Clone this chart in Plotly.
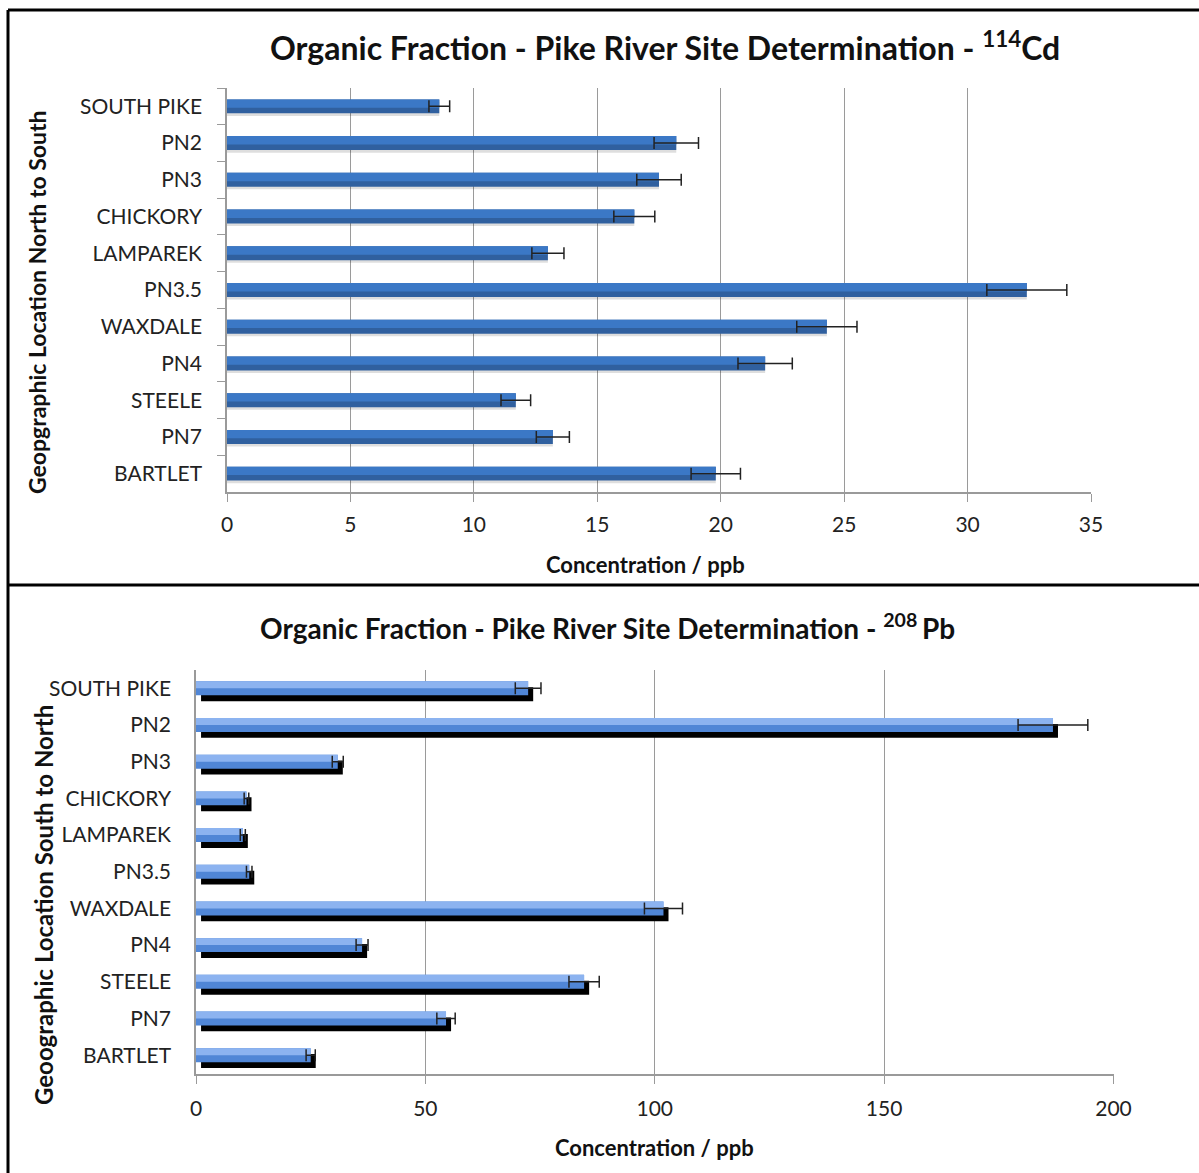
import plotly.graph_objects as go

# ---------------- data ----------------
cd_sites = ["SOUTH PIKE", "PN2", "PN3", "CHICKORY", "LAMPAREK", "PN3.5",
            "WAXDALE", "PN4", "STEELE", "PN7", "BARTLET"]
cd_values = [8.6, 18.2, 17.5, 16.5, 13.0, 32.4, 24.3, 21.8, 11.7, 13.2, 19.8]
cd_errors = [0.42, 0.9, 0.9, 0.83, 0.65, 1.62, 1.22, 1.1, 0.6, 0.67, 1.0]
cd_ticks = [0, 5, 10, 15, 20, 25, 30, 35]

pb_sites = ["SOUTH PIKE", "PN2", "PN3", "CHICKORY", "LAMPAREK", "PN3.5",
            "WAXDALE", "PN4", "STEELE", "PN7", "BARTLET"]
pb_values = [72.4, 186.8, 30.9, 11.0, 10.2, 11.6, 101.9, 36.2, 84.6, 54.5, 25.0]
pb_errors = [2.8, 7.6, 1.2, 0.5, 0.55, 0.6, 4.15, 1.3, 3.3, 2.0, 1.0]
pb_ticks = [0, 50, 100, 150, 200]

W, H = 1199, 1173
FONT = "Lato"
GRID = "#9A9A9A"


def px(x):
    return x / W


def py(y):
    return 1 - y / H


fig = go.Figure()

# ---------------- top chart (114Cd) ----------------
bw = 0.38
fig.add_trace(go.Bar(y=cd_sites, x=cd_values, orientation="h", width=bw, offset=-bw / 2 + 0.07,
                     marker=dict(color="rgba(0,0,0,0.13)", line=dict(width=0)),
                     xaxis="x", yaxis="y", showlegend=False, hoverinfo="skip"))
fig.add_trace(go.Bar(y=cd_sites, x=cd_values, orientation="h", width=bw, offset=-bw / 2,
                     marker=dict(color="#30609F", line=dict(width=0)),
                     xaxis="x", yaxis="y", showlegend=False))
fig.add_trace(go.Bar(y=cd_sites, x=cd_values, orientation="h", width=bw * 0.6, offset=-bw / 2,
                     marker=dict(color="#3B78C6", line=dict(width=0)),
                     xaxis="x", yaxis="y", showlegend=False, hoverinfo="skip"))
fig.add_trace(go.Scatter(y=cd_sites, x=cd_values, mode="markers",
                         marker=dict(color="rgba(0,0,0,0)", size=1),
                         error_x=dict(type="data", array=cd_errors, symmetric=True,
                                      color="#222222", thickness=1.5, width=6),
                         xaxis="x", yaxis="y", showlegend=False, hoverinfo="skip"))

# ---------------- bottom chart (208Pb) ----------------
fig.add_trace(go.Bar(y=pb_sites, x=pb_values, base=[1.1] * len(pb_values), orientation="h",
                     width=bw, offset=-bw / 2 + 0.16,
                     marker=dict(color="#000000", line=dict(width=0)),
                     xaxis="x2", yaxis="y2", showlegend=False, hoverinfo="skip"))
fig.add_trace(go.Bar(y=pb_sites, x=pb_values, orientation="h", width=bw, offset=-bw / 2,
                     marker=dict(color="#5086D6", line=dict(width=0)),
                     xaxis="x2", yaxis="y2", showlegend=False))
fig.add_trace(go.Bar(y=pb_sites, x=pb_values, orientation="h", width=bw * 0.5, offset=-bw / 2,
                     marker=dict(color="#8CB3F0", line=dict(width=0)),
                     xaxis="x2", yaxis="y2", showlegend=False, hoverinfo="skip"))
fig.add_trace(go.Scatter(y=pb_sites, x=pb_values, mode="markers",
                         marker=dict(color="rgba(0,0,0,0)", size=1),
                         error_x=dict(type="data", array=pb_errors, symmetric=True,
                                      color="#222222", thickness=1.5, width=6),
                         xaxis="x2", yaxis="y2", showlegend=False, hoverinfo="skip"))

ytickfont = dict(family=FONT, size=21, color="#222222")
xtickfont = dict(family=FONT, size=21, color="#222222")
n = len(cd_sites)

fig.update_layout(
    width=W, height=H,
    margin=dict(l=0, r=0, t=0, b=0),
    paper_bgcolor="white", plot_bgcolor="white",
    barmode="overlay",
    xaxis=dict(domain=[px(227), px(1091)], anchor="y", range=[0, 35],
               tickvals=cd_ticks, showgrid=True, gridcolor=GRID, gridwidth=1,
               showline=True, linecolor=GRID, linewidth=1.5,
               ticks="outside", ticklen=8, tickcolor=GRID, tickfont=xtickfont,
               ticklabelstandoff=5, zeroline=False, automargin=False, fixedrange=True),
    yaxis=dict(domain=[py(492), py(88)], anchor="x", type="category",
               categoryorder="array", categoryarray=cd_sites, range=[n - 0.5, -0.5],
               showline=True, linecolor=GRID, linewidth=1.5,
               ticks="outside", ticklen=8, tickcolor=GRID, tickson="boundaries",
               tickfont=ytickfont, ticklabelstandoff=19, showgrid=False,
               automargin=False, fixedrange=True),
    xaxis2=dict(domain=[px(196), px(1113.5)], anchor="y2", range=[0, 200],
                tickvals=pb_ticks, showgrid=True, gridcolor=GRID, gridwidth=1,
                showline=True, linecolor=GRID, linewidth=1.5,
                ticks="outside", ticklen=9, tickcolor=GRID, tickfont=xtickfont,
                ticklabelstandoff=7, zeroline=False, automargin=False, fixedrange=True),
    yaxis2=dict(domain=[py(1073.5), py(670)], anchor="x2", type="category",
                categoryorder="array", categoryarray=pb_sites, range=[n - 0.5, -0.5],
                showline=True, linecolor=GRID, linewidth=1.5, ticks="",
                tickfont=ytickfont, ticklabelstandoff=19, showgrid=False,
                automargin=False, fixedrange=True),
)

annots = [
    dict(text="Organic Fraction - Pike River Site Determination - <sup>114</sup>Cd",
         x=px(665), y=py(46), font=dict(family=FONT, size=32, color="#111111", weight="bold")),
    dict(text="Concentration / ppb", x=px(645), y=py(564),
         font=dict(family=FONT, size=22, color="#111111", weight="bold")),
    dict(text="Geopgraphic Location North to South", x=px(37), y=py(302), textangle=-90,
         font=dict(family=FONT, size=23, color="#111111", weight="bold")),
    dict(text="Organic Fraction - Pike River Site Determination - <sup>208 </sup>Pb",
         x=px(607), y=py(626), font=dict(family=FONT, size=28, color="#111111", weight="bold")),
    dict(text="Concentration / ppb", x=px(654), y=py(1147),
         font=dict(family=FONT, size=22, color="#111111", weight="bold")),
    dict(text="Geoographic Location South to North", x=px(43), y=py(905), textangle=-90,
         font=dict(family=FONT, size=24, color="#111111", weight="bold")),
]
for a in annots:
    fig.add_annotation(xref="paper", yref="paper", showarrow=False,
                       xanchor="center", yanchor="middle", **a)

# frame lines
border = dict(color="black", width=3)
fig.add_shape(type="line", xref="paper", yref="paper", x0=px(8), x1=1, y0=py(10), y1=py(10), line=border)
fig.add_shape(type="line", xref="paper", yref="paper", x0=px(8), x1=px(8), y0=py(10), y1=0, line=border)
fig.add_shape(type="line", xref="paper", yref="paper", x0=px(8), x1=1, y0=py(585), y1=py(585), line=border)

fig.write_html("out.html", config={"displayModeBar": False},
               post_script="document.body.style.margin='0';")
